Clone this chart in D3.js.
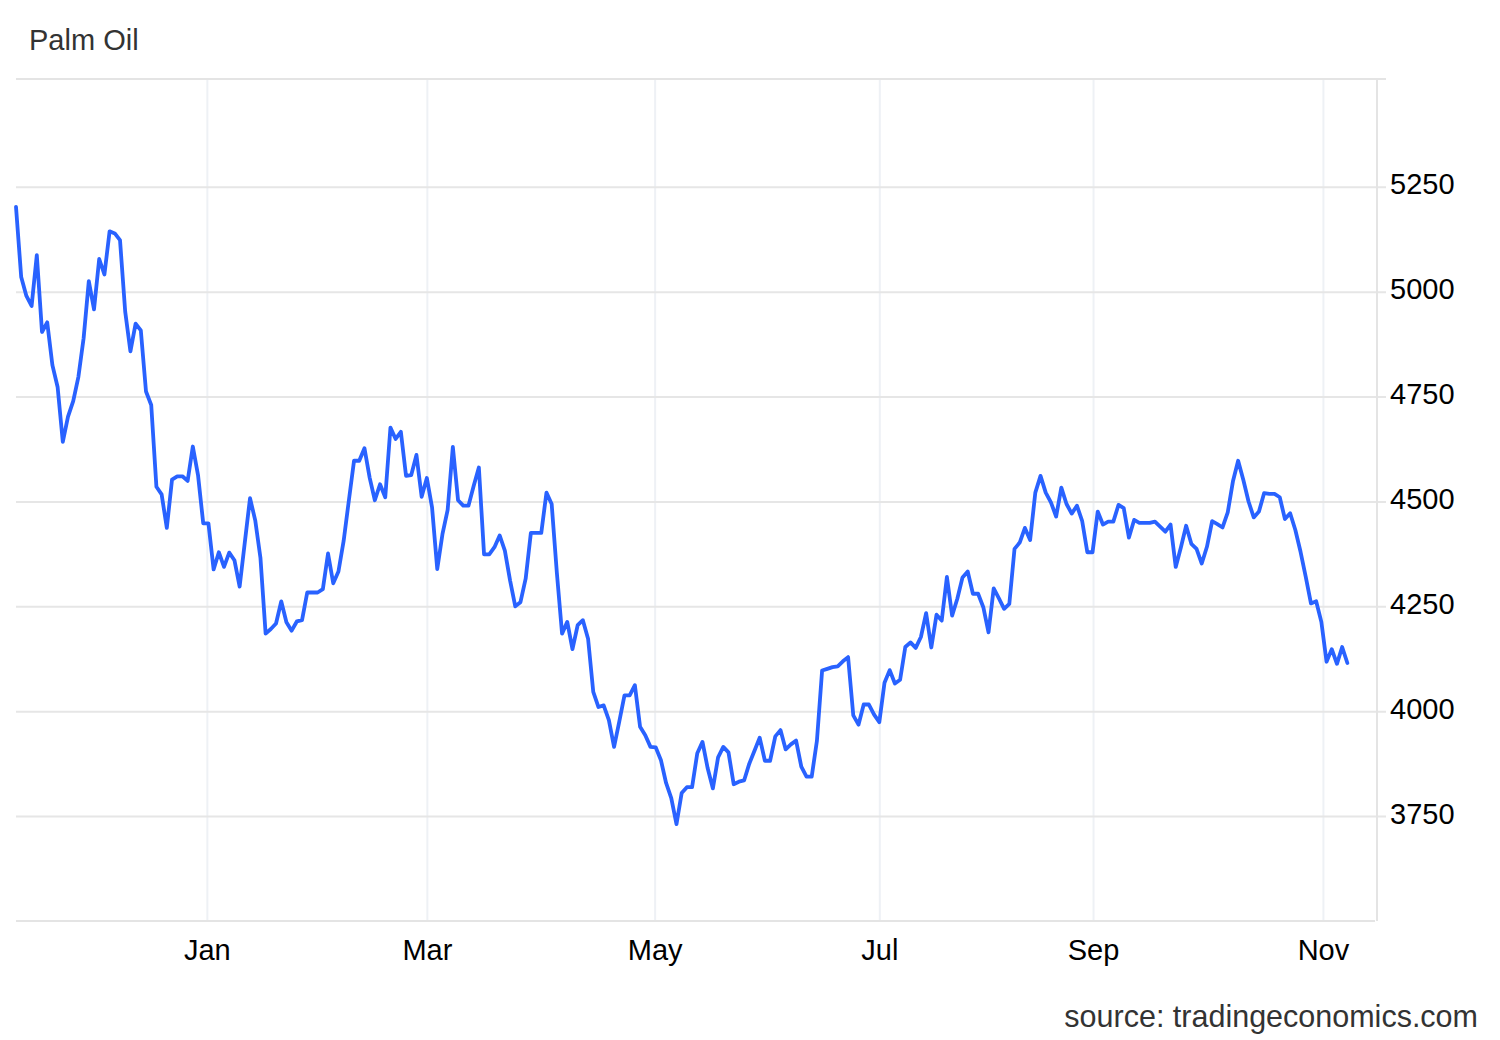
<!DOCTYPE html>
<meta charset="utf-8">
<style>

body { margin: 0; background: #fff; font-family: "Liberation Sans", Arial, Helvetica, sans-serif; }

.title { font-size: 29px; fill: #333; }

.source { font-size: 30.5px; fill: #333; text-anchor: end; }

.axis text { font-size: 29px; fill: #000; font-family: "Liberation Sans", Arial, sans-serif; }

.axis path { display: none; }

.y.axis line { stroke: #e6e6e6; stroke-width: 2; }

.x.axis line { stroke: #eef1f5; stroke-width: 2; }

.frame { stroke: #e4e4e4; stroke-width: 2; }

.line { fill: none; stroke: #2962ff; stroke-width: 3.8; stroke-linejoin: round; stroke-linecap: round; }

</style>
<body>
<script src="https://d3js.org/d3.v7.min.js"></script>
<script>

// daily closes, one per trading session (Nov 2024 - Nov 2025)
var prices = [
  5202, 5035, 4990, 4966, 5087, 4904, 4927, 4825, 4773, 4642,
  4702, 4739, 4797, 4889, 5025, 4958, 5078, 5041, 5144, 5139,
  5123, 4952, 4858, 4924, 4908, 4762, 4730, 4535, 4517, 4437,
  4552, 4560, 4560, 4549, 4631, 4563, 4448, 4448, 4338, 4379,
  4344, 4378, 4360, 4297, 4403, 4508, 4455, 4366, 4185, 4196,
  4209, 4262, 4212, 4192, 4214, 4217, 4283, 4283, 4283, 4291,
  4376, 4305, 4333, 4406, 4502, 4597, 4597, 4627, 4557, 4503,
  4541, 4510, 4676, 4649, 4666, 4561, 4563, 4611, 4511, 4556,
  4486, 4339, 4422, 4480, 4630, 4503, 4490, 4490, 4537, 4581,
  4374, 4374, 4391, 4419, 4383, 4312, 4250, 4260, 4316, 4425,
  4425, 4425, 4521, 4494, 4330, 4185, 4213, 4148, 4205, 4217,
  4173, 4046, 4010, 4014, 3979, 3915, 3975, 4038, 4038, 4062,
  3963, 3943, 3915, 3914, 3884, 3829, 3793, 3731, 3805, 3819,
  3819, 3900, 3927, 3864, 3816, 3890, 3915, 3902, 3826, 3832,
  3835, 3875, 3906, 3937, 3882, 3882, 3940, 3955, 3909, 3921,
  3930, 3868, 3844, 3844, 3929, 4097, 4101, 4105, 4107, 4119,
  4129, 3990, 3968, 4016, 4016, 3992, 3974, 4068, 4098, 4066,
  4075, 4153, 4164, 4151, 4177, 4234, 4152, 4230, 4216, 4320,
  4228, 4268, 4319, 4333, 4280, 4280, 4248, 4188, 4293, 4269,
  4244, 4256, 4387, 4402, 4437, 4408, 4521, 4561, 4521, 4498,
  4464, 4533, 4494, 4471, 4490, 4454, 4379, 4379, 4476, 4445,
  4452, 4452, 4492, 4484, 4414, 4456, 4449, 4449, 4449, 4452,
  4440, 4428, 4445, 4344, 4391, 4442, 4399, 4387, 4352, 4392,
  4453, 4446, 4438, 4474, 4548, 4597, 4551, 4500, 4462, 4476,
  4520, 4518, 4518, 4510, 4458, 4472, 4432, 4380, 4320, 4257,
  4262, 4213, 4118, 4148, 4113, 4153, 4115
];

// month ticks, placed on the session axis
var monthLabels = ["Jan", "Mar", "May", "Jul", "Sep", "Nov"];
var monthSessions = [36.7, 79.0, 122.8, 166.0, 207.1, 251.3];

var priceTicks = [3750, 4000, 4250, 4500, 4750, 5000, 5250];

var width = 1500, height = 1040;
var plot = {left: 16, right: 1377, top: 79, bottom: 921};

var x = d3.scaleLinear().domain([0, 261.7]).range([plot.left, plot.right]);
var y = d3.scaleLinear().domain([3500, 5507]).range([plot.bottom, plot.top]);

var svg = d3.select("body")
    .append("svg")
        .attr("width", width)
        .attr("height", height);

// title
svg.append("text")
    .attr("class", "title")
    .attr("x", 29)
    .attr("y", 50)
    .text("Palm Oil");

// vertical grid + month labels
var xAxis = d3.axisBottom(x)
    .tickValues(monthSessions)
    .tickFormat(function(d, i) { return monthLabels[i]; })
    .tickSize(-(plot.bottom - plot.top))
    .tickPadding(18);

svg.append("g")
    .attr("class", "x axis")
    .attr("transform", "translate(0," + plot.bottom + ")")
    .call(xAxis);

// horizontal grid + price labels on the right
var yAxis = d3.axisRight(y)
    .tickValues(priceTicks)
    .tickFormat(d3.format("d"))
    .tickSize(-(plot.right + 9 - plot.left))
    .tickPadding(4);

svg.append("g")
    .attr("class", "y axis")
    .attr("transform", "translate(" + (plot.right + 9) + ",0)")
    .call(yAxis)
    .selectAll("text")
        .attr("dy", "0.24em");

// frame: top line, bottom axis, right border
svg.append("line").attr("class", "frame")
    .attr("x1", plot.left).attr("x2", plot.right + 9)
    .attr("y1", plot.top).attr("y2", plot.top);
svg.append("line").attr("class", "frame")
    .attr("x1", plot.left).attr("x2", plot.right - 2)
    .attr("y1", plot.bottom).attr("y2", plot.bottom);
svg.append("line").attr("class", "frame")
    .attr("x1", plot.right).attr("x2", plot.right)
    .attr("y1", plot.top).attr("y2", plot.bottom);

// price line
var priceLine = d3.line()
    .x(function(d, i) { return x(i); })
    .y(function(d) { return y(d); });

svg.append("path")
    .datum(prices)
    .attr("class", "line")
    .attr("d", priceLine);

// source
svg.append("text")
    .attr("class", "source")
    .attr("x", 1478)
    .attr("y", 1027)
    .text("source: tradingeconomics.com");

</script>
</body>
